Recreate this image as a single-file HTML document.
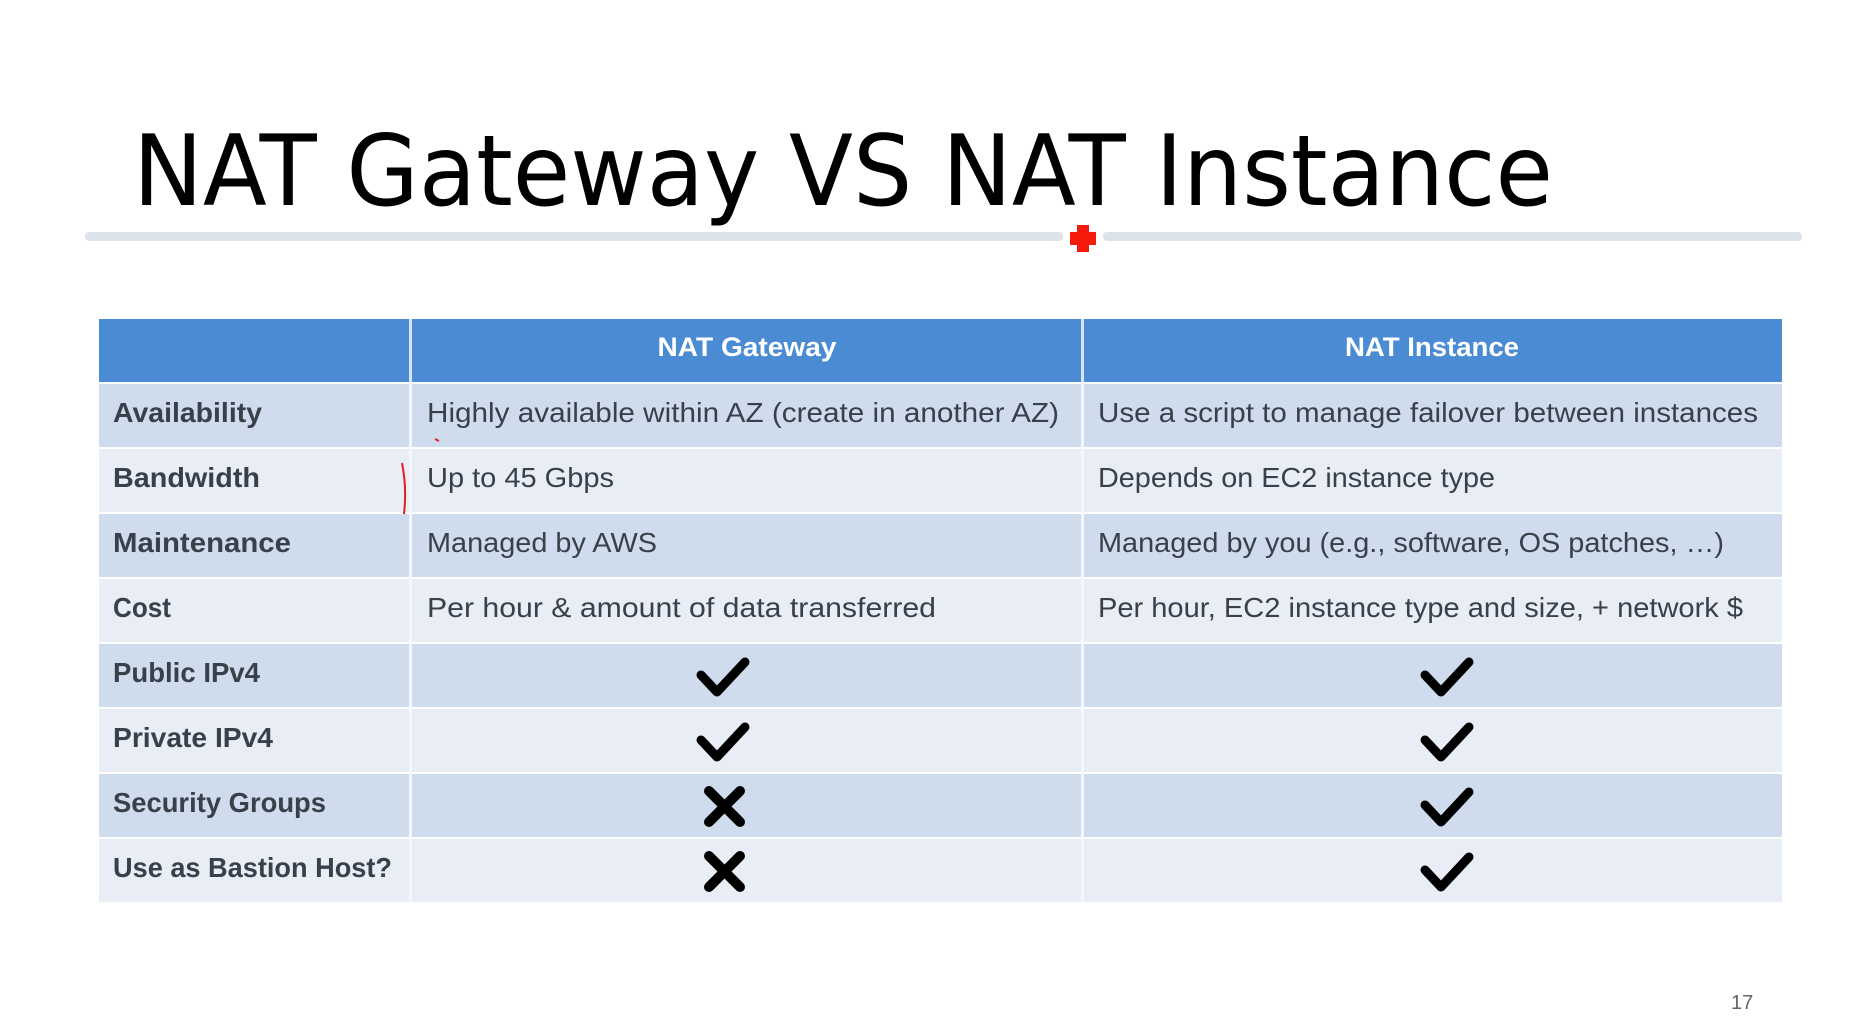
<!DOCTYPE html>
<html><head><meta charset="utf-8"><style>
html,body{margin:0;padding:0;background:#fff;width:1869px;height:1029px;overflow:hidden}
svg{display:block}
</style></head><body>
<svg width="1869" height="1029" viewBox="0 0 1869 1029" xmlns="http://www.w3.org/2000/svg">
<rect width="1869" height="1029" fill="#fff"/>
<text x="133" y="205" font-family="DejaVu Sans, sans-serif" font-size="98" fill="#000" textLength="1420" lengthAdjust="spacingAndGlyphs">NAT Gateway VS NAT Instance</text>
<rect x="85" y="232" width="978" height="9" rx="4" fill="#dde3ea"/>
<rect x="1103" y="232" width="699" height="9" rx="4" fill="#dde3ea"/>
<path d="M1077 225h12v7h7v13h-7v7h-12v-7h-7v-13h7z" fill="#f41a0c"/>
<!-- header -->
<rect x="99" y="319" width="1683" height="63" fill="#4a8bd4"/>
<rect x="409" y="319" width="3" height="63" fill="#d7e4f4"/>
<rect x="1081" y="319" width="3" height="63" fill="#d7e4f4"/>
<g font-family="Liberation Sans, sans-serif" font-weight="bold" font-size="27" fill="#fff" text-anchor="middle">
<text x="747" y="356" textLength="179" lengthAdjust="spacingAndGlyphs">NAT Gateway</text>
<text x="1432" y="356" textLength="174" lengthAdjust="spacingAndGlyphs">NAT Instance</text>
</g>
<!-- rows -->
<g>
<rect x="99" y="384" width="1683" height="63" fill="#cfdcee"/>
<rect x="99" y="449" width="1683" height="63" fill="#e8edf6"/>
<rect x="99" y="514" width="1683" height="63" fill="#cfdcee"/>
<rect x="99" y="579" width="1683" height="63" fill="#e8edf6"/>
<rect x="99" y="644" width="1683" height="63" fill="#cfdcee"/>
<rect x="99" y="709" width="1683" height="63" fill="#e8edf6"/>
<rect x="99" y="774" width="1683" height="63" fill="#cfdcee"/>
<rect x="99" y="839" width="1683" height="63" fill="#e8edf6"/>
<rect x="409" y="384" width="3" height="518" fill="#f4f7fb"/>
<rect x="1081" y="384" width="3" height="518" fill="#f4f7fb"/>
</g>
<g font-family="Liberation Sans, sans-serif" font-weight="bold" font-size="28" fill="#3a4049" lengthAdjust="spacingAndGlyphs">
<text x="113" y="422" textLength="149" lengthAdjust="spacingAndGlyphs">Availability</text>
<text x="113" y="487" textLength="147" lengthAdjust="spacingAndGlyphs">Bandwidth</text>
<text x="113" y="552" textLength="178" lengthAdjust="spacingAndGlyphs">Maintenance</text>
<text x="113" y="617" textLength="58" lengthAdjust="spacingAndGlyphs">Cost</text>
<text x="113" y="682" textLength="147" lengthAdjust="spacingAndGlyphs">Public IPv4</text>
<text x="113" y="747" textLength="160" lengthAdjust="spacingAndGlyphs">Private IPv4</text>
<text x="113" y="812" textLength="213" lengthAdjust="spacingAndGlyphs">Security Groups</text>
<text x="113" y="877" textLength="279" lengthAdjust="spacingAndGlyphs">Use as Bastion Host?</text>
</g>
<g font-family="Liberation Sans, sans-serif" font-size="28" fill="#3a4049">
<text x="427" y="422" textLength="632" lengthAdjust="spacingAndGlyphs">Highly available within AZ (create in another AZ)</text>
<text x="427" y="487" textLength="187" lengthAdjust="spacingAndGlyphs">Up to 45 Gbps</text>
<text x="427" y="552" textLength="230" lengthAdjust="spacingAndGlyphs">Managed by AWS</text>
<text x="427" y="617" textLength="509" lengthAdjust="spacingAndGlyphs">Per hour &amp; amount of data transferred</text>
<text x="1098" y="422" textLength="660" lengthAdjust="spacingAndGlyphs">Use a script to manage failover between instances</text>
<text x="1098" y="487" textLength="397" lengthAdjust="spacingAndGlyphs">Depends on EC2 instance type</text>
<text x="1098" y="552" textLength="626" lengthAdjust="spacingAndGlyphs">Managed by you (e.g., software, OS patches, …)</text>
<text x="1098" y="617" textLength="645" lengthAdjust="spacingAndGlyphs">Per hour, EC2 instance type and size, + network $</text>
</g>
<!-- marks -->
<g fill="none" stroke="#000" stroke-width="9" stroke-linecap="round" stroke-linejoin="round">
<path d="M701 675L717 692L745 662"/>
<path d="M701 740L717 757L745 727"/>
<path d="M1425 675L1441 692L1469 662"/>
<path d="M1425 740L1441 757L1469 727"/>
<path d="M1425 805L1441 822L1469 792"/>
<path d="M1425 870L1441 887L1469 857"/>
</g>
<g stroke="#000" stroke-width="10" stroke-linecap="round">
<path d="M709 791L740 822M740 791L709 822"/>
<path d="M709 856L740 887M740 856L709 887"/>
</g>
<path d="M402 463Q407 488 404 514" fill="none" stroke="#e02020" stroke-width="2"/>
<path d="M435 439l4 2" stroke="#e02020" stroke-width="2"/>
<text x="1731" y="1009" font-family="Liberation Sans, sans-serif" font-size="20" fill="#666">17</text>
</svg>
</body></html>
